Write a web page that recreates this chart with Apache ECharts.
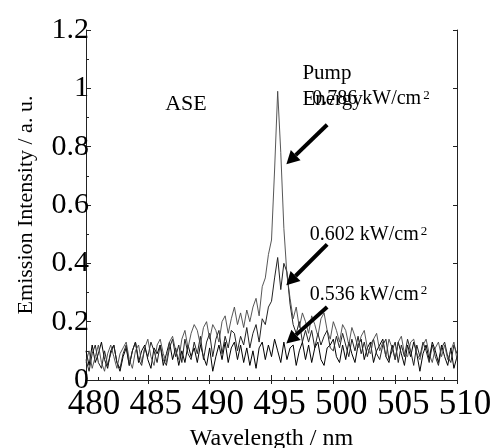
<!DOCTYPE html>
<html>
<head>
<meta charset="utf-8">
<script src="https://cdn.jsdelivr.net/npm/echarts@6/dist/echarts.min.js"></script>
<style>html,body{margin:0;padding:0;background:#fff}#c{width:498px;height:448px}</style>
</head>
<body>
<div id="c"></div>
<script>
var wavelength = [480,480.25,480.5,480.75,481,481.25,481.5,481.75,482,482.25,482.5,482.75,
483,483.25,483.5,483.75,484,484.25,484.5,484.75,485,485.25,485.5,485.75,
486,486.25,486.5,486.75,487,487.25,487.5,487.75,488,488.25,488.5,488.75,
489,489.25,489.5,489.75,490,490.25,490.5,490.75,491,491.25,491.5,491.75,
492,492.25,492.5,492.75,493,493.25,493.5,493.75,494,494.25,494.5,494.75,
495,495.25,495.5,495.75,496,496.25,496.5,496.75,497,497.25,497.5,497.75,
498,498.25,498.5,498.75,499,499.25,499.5,499.75,500,500.25,500.5,500.75,
501,501.25,501.5,501.75,502,502.25,502.5,502.75,503,503.25,503.5,503.75,
504,504.25,504.5,504.75,505,505.25,505.5,505.75,506,506.25,506.5,506.75,
507,507.25,507.5,507.75,508,508.25,508.5,508.75,509,509.25,509.5,509.75,510];

var s786 = [0.06,0.1,0.04,0.08,0.12,0.06,0.03,0.09,0.12,0.08,0.04,0.09,
0.11,0.13,0.07,0.04,0.1,0.12,0.06,0.11,0.14,0.08,0.05,0.12,
0.14,0.09,0.06,0.13,0.15,0.1,0.07,0.14,0.17,0.11,0.16,0.19,
0.17,0.12,0.18,0.2,0.14,0.19,0.17,0.13,0.2,0.22,0.16,0.21,
0.25,0.19,0.23,0.18,0.24,0.2,0.25,0.28,0.22,0.32,0.35,0.43,
0.48,0.72,0.99,0.78,0.52,0.36,0.28,0.21,0.25,0.18,0.23,0.2,
0.16,0.22,0.19,0.15,0.21,0.23,0.17,0.14,0.2,0.17,0.13,0.19,
0.17,0.12,0.18,0.15,0.11,0.15,0.17,0.11,0.09,0.14,0.16,0.1,
0.13,0.08,0.14,0.11,0.07,0.13,0.15,0.09,0.08,0.13,0.14,0.09,
0.07,0.12,0.14,0.09,0.06,0.11,0.13,0.08,0.12,0.07,0.1,0.13,0.07];

var s602 = [0.07,0.03,0.09,0.12,0.06,0.04,0.1,0.05,0.09,0.12,0.06,0.04,
0.09,0.12,0.05,0.1,0.13,0.07,0.05,0.11,0.08,0.13,0.1,0.06,
0.12,0.07,0.05,0.11,0.14,0.08,0.12,0.06,0.14,0.09,0.07,0.13,
0.09,0.15,0.07,0.13,0.16,0.08,0.14,0.17,0.09,0.15,0.11,0.17,
0.16,0.1,0.15,0.12,0.18,0.11,0.16,0.19,0.13,0.21,0.19,0.25,
0.27,0.35,0.42,0.31,0.4,0.37,0.26,0.19,0.16,0.2,0.13,0.17,
0.13,0.17,0.11,0.16,0.12,0.15,0.17,0.11,0.1,0.15,0.11,0.16,
0.12,0.08,0.14,0.1,0.15,0.09,0.13,0.08,0.12,0.14,0.09,0.07,
0.12,0.14,0.07,0.1,0.13,0.06,0.12,0.08,0.14,0.1,0.05,0.12,
0.08,0.13,0.1,0.06,0.12,0.08,0.05,0.11,0.13,0.08,0.06,0.12,0.09];

var s536 = [0.1,0.05,0.12,0.06,0.09,0.13,0.07,0.04,0.1,0.12,0.06,0.03,
0.08,0.11,0.05,0.1,0.13,0.06,0.1,0.12,0.07,0.04,0.11,0.09,
0.12,0.05,0.09,0.13,0.07,0.11,0.05,0.1,0.06,0.12,0.08,0.11,
0.06,0.12,0.08,0.05,0.11,0.03,0.08,0.12,0.07,0.13,0.06,0.11,
0.13,0.07,0.12,0.06,0.11,0.05,0.1,0.04,0.11,0.13,0.07,0.12,
0.08,0.14,0.1,0.06,0.13,0.07,0.11,0.12,0.05,0.1,0.13,0.07,
0.12,0.06,0.11,0.13,0.07,0.05,0.11,0.12,0.14,0.08,0.06,0.12,
0.07,0.13,0.09,0.06,0.12,0.14,0.07,0.11,0.13,0.06,0.1,0.12,
0.14,0.08,0.06,0.12,0.07,0.13,0.09,0.05,0.12,0.08,0.13,0.09,
0.03,0.09,0.12,0.07,0.13,0.1,0.06,0.12,0.08,0.05,0.11,0.04,0.08];

var xTicks = [480,485,490,495,500,505,510];
var yTicks = [0,0.2,0.4,0.6,0.8,1,1.2];

// annotation labels and arrows in data units
var labels = [
  {text:'ASE', x:486.4, y:0.945, size:22},
  {text:'Pump', x:497.5, y:1.05, size:21},
  {text:'Energy', x:497.5, y:0.96, size:21},
  {text:'0.786 kW/cm{s|2}', x:498.3, y:0.96, size:20},
  {text:'0.602 kW/cm{s|2}', x:498.1, y:0.495, size:20},
  {text:'0.536 kW/cm{s|2}', x:498.1, y:0.29, size:20}
];
var arrows = [
  {from:[499.5,0.875], to:[496.2,0.74]},
  {from:[499.5,0.465], to:[496.2,0.325]},
  {from:[499.5,0.25], to:[496.2,0.125]}
];

function pairs(ys){ return ys.map(function(v,i){ return [wavelength[i], v]; }); }

var FONT = '"Liberation Serif", "DejaVu Serif", serif';
var chart = echarts.init(document.getElementById('c'), null, {renderer:'canvas'});
var axisLine = {show:true, lineStyle:{color:'#222', width:1}};
chart.setOption({
  animation:false,
  backgroundColor:'#fff',
  grid:{left:86, right:41, top:30, bottom:68, containLabel:false, outerBoundsMode:'none'},
  xAxis:[{
    type:'value', min:480, max:510, interval:5,
    axisLine:axisLine,
    axisTick:{show:true, inside:true, length:5, lineStyle:{color:'#222'}},
    minorTick:{show:true, splitNumber:5, length:3, lineStyle:{color:'#222'}},
    splitLine:{show:false},
    axisLabel:{fontFamily:FONT, fontSize:35, color:'#000', margin:7, padding:[0,0,0,16],
      formatter:function(v){ return xTicks.indexOf(v)>=0 ? String(v) : ''; }},
    name:'Wavelength / nm', nameLocation:'middle', nameGap:46,
    nameTextStyle:{fontFamily:FONT, fontSize:24, color:'#000'}
  },{
    type:'value', min:480, max:510, interval:5, position:'top',
    axisLine:axisLine,
    axisTick:{show:true, inside:true, length:4, lineStyle:{color:'#222'}},
    axisLabel:{show:false}, splitLine:{show:false}
  }],
  yAxis:[{
    type:'value', min:0, max:1.2, interval:0.2,
    axisLine:axisLine,
    axisTick:{show:true, inside:true, length:5, lineStyle:{color:'#222'}},
    minorTick:{show:true, splitNumber:2, length:3, lineStyle:{color:'#222'}},
    splitLine:{show:false},
    axisLabel:{fontFamily:FONT, fontSize:30, color:'#000', margin:-3,
      formatter:function(v){ var r=Math.round(v*10)/10; return yTicks.indexOf(r)>=0 ? String(r) : ''; }},
    name:'Emission Intensity / a. u.', nameLocation:'middle', nameGap:49,
    nameTextStyle:{fontFamily:FONT, fontSize:22, color:'#000'}
  },{
    type:'value', min:0, max:1.2, interval:0.2, position:'right',
    axisLine:axisLine,
    axisTick:{show:true, inside:true, length:4, lineStyle:{color:'#222'}},
    axisLabel:{show:false}, splitLine:{show:false}
  }],
  series:[
    {name:'0.536', type:'line', data:pairs(s536), showSymbol:false, symbol:'none',
      lineStyle:{color:'#000', width:1}},
    {name:'0.602', type:'line', data:pairs(s602), showSymbol:false, symbol:'none',
      lineStyle:{color:'#222', width:1}},
    {name:'0.786', type:'line', data:pairs(s786), showSymbol:false, symbol:'none',
      lineStyle:{color:'#444', width:0.9}}
  ]
});

var g = [];
labels.forEach(function(l){
  var p = chart.convertToPixel({gridIndex:0}, [l.x, l.y]);
  g.push({type:'text', left:p[0], top:p[1]-11, z:100,
    style:{text:l.text, fontFamily:FONT, fontSize:l.size, fill:'#000',
      rich:{s:{fontFamily:FONT, fontSize:13, verticalAlign:'top', lineHeight:12, padding:[0,0,8,2]}}}});
});
arrows.forEach(function(a){
  var p0 = chart.convertToPixel({gridIndex:0}, a.from);
  var p1 = chart.convertToPixel({gridIndex:0}, a.to);
  var dx=p1[0]-p0[0], dy=p1[1]-p0[1], L=Math.sqrt(dx*dx+dy*dy);
  var ux=dx/L, uy=dy/L, hl=13, hw=7;
  var bx=p1[0]-ux*hl, by=p1[1]-uy*hl;
  g.push({type:'line', z:100, shape:{x1:p0[0], y1:p0[1], x2:bx, y2:by},
    style:{stroke:'#000', lineWidth:4}});
  g.push({type:'polygon', z:100, shape:{points:[[p1[0],p1[1]],[bx-uy*hw, by+ux*hw],[bx+uy*hw, by-ux*hw]]},
    style:{fill:'#000'}});
});
chart.setOption({graphic:g});
</script>
</body>
</html>
